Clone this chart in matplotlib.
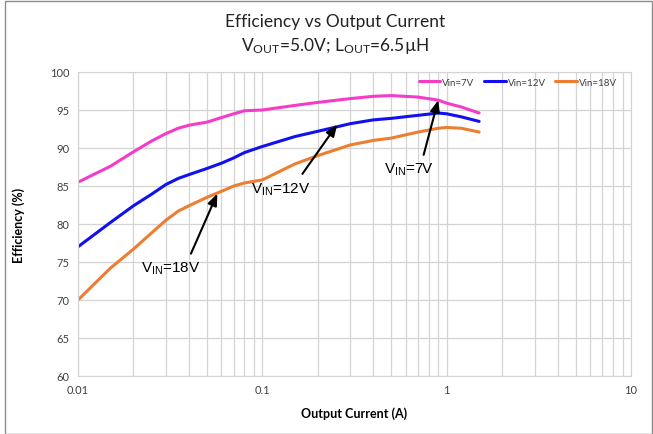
import matplotlib
matplotlib.use("Agg")
import matplotlib.pyplot as plt
from matplotlib.patches import Rectangle
from matplotlib.ticker import LogLocator, FixedLocator, NullFormatter

current = [0.01, 0.015, 0.02, 0.025, 0.03, 0.035, 0.04, 0.05, 0.06, 0.07, 0.08, 0.1,
           0.15, 0.2, 0.3, 0.4, 0.5, 0.7, 0.9, 1.0, 1.2, 1.5]
eff_7v = [85.5, 87.6, 89.5, 90.9, 91.9, 92.6, 93.0, 93.4, 94.0, 94.5, 94.9, 95.0,
          95.6, 96.0, 96.5, 96.8, 96.9, 96.7, 96.3, 95.9, 95.4, 94.6]
eff_12v = [77.0, 80.2, 82.4, 83.9, 85.2, 86.0, 86.5, 87.3, 88.0, 88.7, 89.4, 90.2,
           91.5, 92.2, 93.2, 93.7, 93.9, 94.3, 94.6, 94.5, 94.1, 93.5]
eff_18v = [70.0, 74.2, 76.7, 78.8, 80.5, 81.7, 82.4, 83.5, 84.3, 85.0, 85.4, 85.8,
           87.9, 89.0, 90.4, 91.0, 91.3, 92.1, 92.6, 92.7, 92.6, 92.1]
series_labels = ["Vin=7V", "Vin=12V", "Vin=18V"]
x_ticks = [0.01, 0.1, 1, 10]
x_tick_labels = ["0.01", "0.1", "1", "10"]
y_ticks = [60, 65, 70, 75, 80, 85, 90, 95, 100]

colors = ["#F53CC8", "#1010F0", "#ED7D31"]

fig = plt.figure(figsize=(6.53, 4.35), dpi=100)
fig.patches.append(Rectangle((0.008, 0.0), 0.99, 0.995, transform=fig.transFigure,
                             fill=False, edgecolor="#8c8c8c", linewidth=1.0))
ax = fig.add_axes([78/653, 1-377/435, (631-78)/653, (377-73)/435])

for ys, c, lab in zip([eff_7v, eff_12v, eff_18v], colors, series_labels):
    ax.plot(current, ys, color=c, lw=2.2, label=lab, solid_capstyle="round",
            solid_joinstyle="round")

ax.set_xscale("log")
ax.set_xlim(0.01, 10)
ax.set_ylim(60, 100)
ax.xaxis.set_major_locator(FixedLocator(x_ticks))
ax.set_xticklabels(x_tick_labels)
ax.xaxis.set_minor_locator(LogLocator(base=10, subs=range(2, 10)))
ax.xaxis.set_minor_formatter(NullFormatter())
ax.set_yticks(y_ticks)
ax.grid(which="major", color="#d4d4d4", lw=0.9)
ax.grid(which="minor", axis="x", color="#d4d4d4", lw=0.9)
ax.set_axisbelow(True)
ax.tick_params(which="both", length=0, labelsize=8, labelcolor="#404040", pad=6)
for s in ax.spines.values():
    s.set_color("#d4d4d4")
for lab in ax.get_xticklabels() + ax.get_yticklabels():
    lab.set_family("Lato")

ax.set_xlabel("Output Current (A)", family="Lato", fontweight="bold", fontsize=9, labelpad=8)
ax.set_ylabel("Efficiency (%)", family="Lato", fontweight="bold", fontsize=9, labelpad=18)

fig.text(335/653, 1-22/435, "Efficiency vs Output Current", family="Lato", fontsize=12.5,
         ha="center", va="center", color="#222222")
fig.text(335/653, 1-46/435, r"V$\mathregular{_{OUT}}$=5.0V; L$\mathregular{_{OUT}}$=6.5µH",
         family="Lato", fontsize=12.5, ha="center", va="center", color="#222222")

leg = ax.legend(loc="upper right", ncol=3, frameon=False, fontsize=7,
                handlelength=2.2, handletextpad=0.2, columnspacing=1.0,
                bbox_to_anchor=(0.985, 1.0), borderaxespad=0.2)
for t in leg.get_texts():
    t.set_family("Lato")
    t.set_color("#404040")

ann = [(0.9, 96.3, 0.75, 89.1),
       (0.255, 93.1, 0.165, 86.6),
       (0.057, 84.0, 0.041, 76.1)]
for hx, hy, tx, ty in ann:
    ax.annotate("", xy=(hx, hy), xytext=(tx, ty),
                arrowprops=dict(arrowstyle="-|>,head_length=0.7,head_width=0.28",
                                color="black", lw=1.5, shrinkA=0, shrinkB=0))
text_pos = [(r"V$\mathregular{_{IN}}$=7V", 0.62, 87.2),
            (r"V$\mathregular{_{IN}}$=12V", 0.125, 84.6),
            (r"V$\mathregular{_{IN}}$=18V", 0.032, 74.2)]
for txt, x, y in text_pos:
    ax.text(x, y, txt, family="Liberation Sans", fontsize=11, ha="center", va="center")

fig.savefig("out.png", dpi=100)
